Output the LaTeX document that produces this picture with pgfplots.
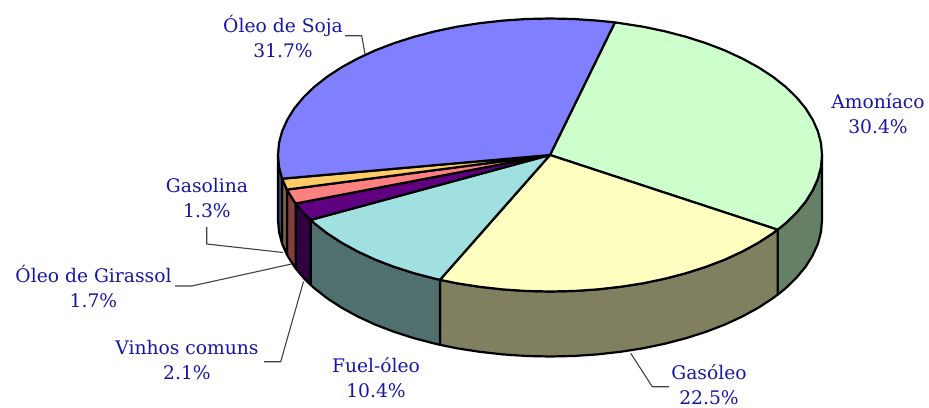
\documentclass[border=0pt]{standalone}
\usepackage{pgfplots}
\pgfplotsset{compat=1.18}
\usepackage{fontspec}
\setmainfont{DejaVu Serif}
\definecolor{lbl}{HTML}{1616A6}
\definecolor{soja}{HTML}{8080FF}
\definecolor{amon}{HTML}{CCFFCC}
\definecolor{gasoleo}{HTML}{FFFFC0}
\definecolor{fuel}{HTML}{A0E0E0}
\definecolor{vinhos}{HTML}{600080}
\definecolor{girassol}{HTML}{FF8080}
\definecolor{gasolina}{HTML}{FFCC66}
\definecolor{sojad}{HTML}{404080}
\definecolor{amond}{HTML}{668066}
\definecolor{gasoleod}{HTML}{808060}
\definecolor{fueld}{HTML}{507070}
\definecolor{vinhosd}{HTML}{300040}
\definecolor{girassold}{HTML}{804040}
\definecolor{gasolinad}{HTML}{806633}
\begin{document}
\begin{tikzpicture}[x=1pt,y=1pt]
\path[use as bounding box] (0,0) rectangle (929,407);
\begin{axis}[
  at={(0,0)}, anchor=south west,
  hide axis, scale only axis, width=929pt, height=407pt,
  xmin=0, xmax=929, ymin=0, ymax=407, y dir=reverse, clip=false,
  every axis plot/.append style={no marks, line width=2.2pt, line join=round, draw=black},
]
% side walls (top arc forward, bottom arc back)
\addplot[fill=amond] coordinates {(822,155)(821,166.9)(817.9,178.7)(812.7,190.3)(805.6,201.7)(796.5,212.7)(785.6,223.3)(777.6,229.7)
 (777.6,294.7)(785.6,288.3)(796.5,277.7)(805.6,266.7)(812.7,255.3)(817.9,243.7)(821,231.9)(822,220)} -- cycle;
\addplot[fill=gasoleod] coordinates {(777.6,229.7)(772.8,233.3)(758.4,242.7)(742.3,251.5)(724.8,259.6)(706,266.8)(686,273.2)(664.9,278.7)(643,283.3)(620.4,286.8)(597.2,289.4)(573.7,291)(550,291.5)(526.3,291)(502.8,289.4)(479.6,286.8)(457,283.3)(440,279.8)
 (440,344.8)(457,348.3)(479.6,351.8)(502.8,354.4)(526.3,356)(550,356.5)(573.7,356)(597.2,354.4)(620.4,351.8)(643,348.3)(664.9,343.7)(686,338.2)(706,331.8)(724.8,324.6)(742.3,316.5)(758.4,307.7)(772.8,298.3)(777.6,294.7)} -- cycle;
\addplot[fill=fueld] coordinates {(440,279.8)(435.1,278.7)(414,273.2)(394,266.8)(375.2,259.6)(357.7,251.5)(341.6,242.7)(327.2,233.3)(314.4,223.3)(310.7,219.9)
 (310.7,284.9)(314.4,288.3)(327.2,298.3)(341.6,307.7)(357.7,316.5)(375.2,324.6)(394,331.8)(414,338.2)(435.1,343.7)(440,344.8)} -- cycle;
\addplot[fill=vinhosd] coordinates {(310.7,219.9)(303.5,212.7)(295.7,203.5)(295.7,268.5)(303.5,277.7)(310.7,284.9)} -- cycle;
\addplot[fill=girassold] coordinates {(295.7,203.5)(294.4,201.7)(287.3,190.3)(286.9,189.6)(286.9,254.6)(287.3,255.3)(294.4,266.7)(295.7,268.5)} -- cycle;
\addplot[fill=gasolinad] coordinates {(286.9,189.6)(282.1,178.7)(282.1,243.7)(286.9,254.6)} -- cycle;
\addplot[fill=sojad] coordinates {(282.1,178.7)(279,166.9)(278,155)(278,220)(279,231.9)(282.1,243.7)} -- cycle;
% top faces
\addplot[fill=amon] coordinates {(550,155)(614.9,22.4)(620.4,23.2)(643,26.7)(664.9,31.3)(686,36.8)(706,43.2)(724.8,50.4)(742.3,58.5)(758.4,67.3)(772.8,76.7)(785.6,86.75)(796.5,97.3)(805.6,108.3)(812.7,119.7)(817.9,131.3)(821,143.1)(822,155)(821,166.9)(817.9,178.7)(812.7,190.3)(805.6,201.7)(796.5,212.7)(785.6,223.3)(777.6,229.7)} -- cycle;
\addplot[fill=gasoleo] coordinates {(550,155)(777.6,229.7)(772.8,233.3)(758.4,242.7)(742.3,251.5)(724.8,259.6)(706,266.8)(686,273.2)(664.9,278.7)(643,283.3)(620.4,286.8)(597.2,289.4)(573.7,291)(550,291.5)(526.3,291)(502.8,289.4)(479.6,286.8)(457,283.3)(440,279.8)} -- cycle;
\addplot[fill=fuel] coordinates {(550,155)(440,279.8)(435.1,278.7)(414,273.2)(394,266.8)(375.2,259.6)(357.7,251.5)(341.6,242.7)(327.2,233.3)(314.4,223.3)(310.7,219.9)} -- cycle;
\addplot[fill=vinhos] coordinates {(550,155)(310.7,219.9)(303.5,212.7)(295.7,203.5)} -- cycle;
\addplot[fill=girassol] coordinates {(550,155)(295.7,203.5)(294.4,201.7)(287.3,190.3)(286.9,189.6)} -- cycle;
\addplot[fill=gasolina] coordinates {(550,155)(286.9,189.6)(282.1,178.7)} -- cycle;
\addplot[fill=soja] coordinates {(550,155)(282.1,178.7)(279,166.9)(278,155)(279,143.1)(282.1,131.3)(287.3,119.7)(294.4,108.3)(303.5,97.3)(314.4,86.75)(327.2,76.7)(341.6,67.3)(357.7,58.5)(375.2,50.4)(394,43.2)(414,36.8)(435.1,31.3)(457,26.7)(479.6,23.2)(502.8,20.6)(526.3,19)(550,18.5)(573.7,19)(597.2,20.6)(614.9,22.4)} -- cycle;
% leader lines
\addplot[line width=1.1pt, draw=black!75] coordinates {(206.7,227)(206.7,244)(283,252.5)};
\addplot[line width=1.1pt, draw=black!75] coordinates {(175,286)(191.7,286)(291.5,264)};
\addplot[line width=1.1pt, draw=black!75] coordinates {(264,361.7)(280.7,361.7)(303.5,281.5)};
\addplot[line width=1.1pt, draw=black!75] coordinates {(345,35.7)(361.7,35.7)(365,54)};
\addplot[line width=1.1pt, draw=black!75] coordinates {(669,386.7)(652.3,386.7)(630.7,353.3)};
% labels
\begin{scope}[every node/.style={align=center, text=lbl, font=\fontsize{18.7}{25}\selectfont}]
\node at (axis cs:283,36) {Óleo de Soja\\31.7\%};
\node at (axis cs:878,114) {Amoníaco\\30.4\%};
\node at (axis cs:709,385) {Gasóleo\\22.5\%};
\node at (axis cs:376,378) {Fuel-óleo\\10.4\%};
\node at (axis cs:187,360) {Vinhos comuns\\2.1\%};
\node at (axis cs:93.5,286) {Óleo de Girassol\\1.7\%};
\node at (axis cs:207,198) {Gasolina\\1.3\%};
\end{scope}
\end{axis}
\end{tikzpicture}
\end{document}
